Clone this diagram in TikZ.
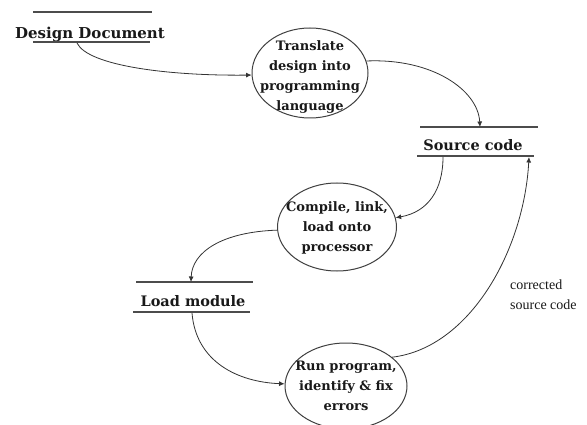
\documentclass[tikz,border=0pt]{standalone}
\usepackage{fontspec}
\setmainfont{DejaVu Serif}
\newfontfamily\plainserif{Liberation Serif}
\usetikzlibrary{shapes.geometric,arrows.meta}
\tikzset{
  proc/.style={draw=black!75, line width=1pt, ellipse, inner sep=0pt},
  proctext/.style={align=center, font=\bfseries\fontsize{13}{20}\selectfont, text=black!90},
  storetext/.style={anchor=base, font=\bfseries\fontsize{14.5}{17}\selectfont, text=black!90, inner sep=0pt},
  storeline/.style={draw=black!70, line width=1.2pt},
  flow/.style={draw=black!80, line width=0.8pt, -{Latex[length=5.5pt,width=5pt]}},
  note/.style={align=left, anchor=north west, font=\plainserif\fontsize{14}{20}\selectfont, text=black!90, inner sep=0pt}
}
\begin{document}
\begin{tikzpicture}[x=1pt,y=-1pt]
\useasboundingbox[fill=white] (0,0) rectangle (587,425);

% Design Document store
\node[storetext, font=\bfseries\fontsize{15}{18}\selectfont] (dd) at (90,39) {Design Document};
\draw[storeline] (33,12) -- (152,12);
\draw[storeline] (33,42) -- (150,42);
\coordinate (ddout) at (77,43);

% Source code store
\node[storetext] (sc) at (473,151) {Source code};
\draw[storeline] (420,127) -- (538,127);
\draw[storeline] (417,156) -- (534,156);
\coordinate (sctop) at (480,127);
\coordinate (scout) at (443,157);
\coordinate (scin) at (529,157);

% Load module store
\node[storetext] (lm) at (193,306) {Load module};
\draw[storeline] (136,282) -- (253,282);
\draw[storeline] (133,312) -- (250,312);
\coordinate (lmtop) at (191,282);
\coordinate (lmout) at (192,313);

% Processes
\node[proc, minimum width=116pt, minimum height=90pt] (t1) at (310,73) {};
\node[proctext] (t1txt) at (310,77) {Translate\\design into\\programming\\language};

\node[proc, minimum width=119pt, minimum height=88pt] (c1) at (337,227) {};
\node[proctext] (c1txt) at (337,228) {Compile, link,\\load onto\\processor};

\node[proc, minimum width=122pt, minimum height=86pt] (r1) at (346,386) {};
\node[proctext] (r1txt) at (346,386) {Run program,\\identify \& fix\\errors};

% Flows
\draw[flow] (ddout) .. controls (88,66) and (170,76) .. (t1.182);
\draw[flow] (t1.12) .. controls (432,58) and (478,90) .. (sctop);
\draw[flow] (scout) .. controls (443,190) and (428,212) .. (c1.9);
\draw[flow] (c1.183) .. controls (222,232) and (192,252) .. (lmtop);
\draw[flow] (lmout) .. controls (196,362) and (238,382) .. (r1.178);
\draw[flow] (r1.32) .. controls (470,348) and (524,250) .. (scin);

% Label
\node[note] (lbl) at (510,280) {corrected\\source code};
\end{tikzpicture}
\end{document}
